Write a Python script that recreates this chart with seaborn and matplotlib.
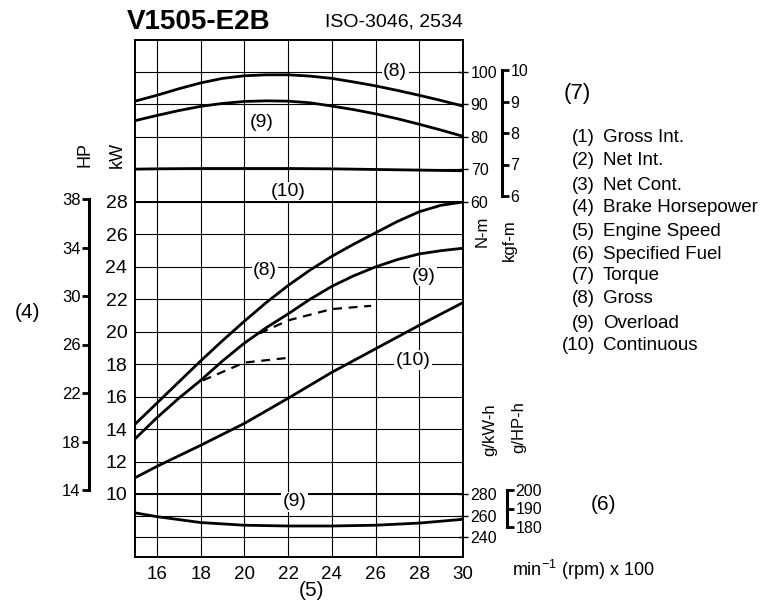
import matplotlib
matplotlib.use("Agg")
import matplotlib.pyplot as plt
import seaborn as sns

# ---------------- data ----------------
rpm = [15, 16, 18, 20, 22, 24, 26, 28, 30]          # x 100 min-1
rpm_fine = [15, 16, 17, 18, 19, 20, 21, 22, 23, 24, 25, 26, 27, 28, 29, 30]

torque_gross = [91.0, 92.8, 94.8, 96.6, 98.0, 98.8, 99.1, 99.1,
                98.7, 98.0, 96.9, 95.7, 94.3, 92.8, 91.2, 89.5]
torque_overload = [85.0, 86.6, 88.1, 89.4, 90.3, 90.9, 91.1, 91.0,
                   90.5, 89.5, 88.4, 87.1, 85.6, 83.9, 82.1, 80.2]
torque_continuous = [70.1, 70.2, 70.3, 70.3, 70.3, 70.2, 70.0, 69.8, 69.6]

power_gross = [14.3, 15.6, 16.9, 18.2, 19.45, 20.65, 21.8, 22.85,
               23.8, 24.65, 25.4, 26.1, 26.8, 27.4, 27.8, 28.0]
power_overload = [13.4, 14.7, 15.9, 17.0, 18.2, 19.3, 20.25, 21.1,
                  22.0, 22.8, 23.45, 24.0, 24.45, 24.8, 25.0, 25.15]
power_continuous = [11.0, 11.7, 13.0, 14.35, 15.9, 17.5, 18.95, 20.4, 21.8]
dash_upper_rpm = [20.7, 22, 24, 25.8]
dash_upper_kw = [19.9, 20.7, 21.4, 21.6]
dash_lower_rpm = [18.1, 20, 22.05]
dash_lower_kw = [17.0, 18.1, 18.4]

fuel_overload = [262.5, 259.0, 253.5, 251.0, 250.3, 250.3, 251.0, 253.0, 256.5]

x_ticks = [16, 18, 20, 22, 24, 26, 28, 30]
torque_ticks = [60, 70, 80, 90, 100]
kgfm_ticks = [6, 7, 8, 9, 10]
power_ticks = [10, 12, 14, 16, 18, 20, 22, 24, 26, 28]
hp_ticks = [14, 18, 22, 26, 30, 34, 38]
fuel_ticks = [240, 260, 280]
ghph_ticks = [180, 190, 200]

legend_nums = ["(1)", "(2)", "(3)", "(4)", "(5)", "(6)", "(7)", "(8)", "(9)", "(10)"]
legend_names = ["Gross Int.", "Net Int.", "Net Cont.", "Brake Horsepower",
                "Engine Speed", "Specified Fuel", "Torque", "Gross",
                "Overload", "Continuous"]

# ---------------- style ----------------
sns.set_theme(style="white")
plt.rcParams["font.family"] = ["Liberation Sans", "DejaVu Sans"]
plt.rcParams["axes.edgecolor"] = "black"
plt.rcParams["text.color"] = "black"
plt.rcParams["xtick.color"] = "black"
plt.rcParams["ytick.color"] = "black"
plt.rcParams["axes.labelcolor"] = "black"

W, H = 770, 606
fig = plt.figure(figsize=(W / 100, H / 100), dpi=100)
fig.patch.set_facecolor("white")


def fx(px):
    return px / W


def fy(py):
    return 1 - py / H


LEFT, RIGHT = 135, 463
TOP, MID1, MID2, BOT = 40, 202, 494, 557

ax_t = fig.add_axes([fx(LEFT), fy(MID1), (RIGHT - LEFT) / W, (MID1 - TOP) / H])
ax_p = fig.add_axes([fx(LEFT), fy(MID2), (RIGHT - LEFT) / W, (MID2 - MID1) / H])
ax_f = fig.add_axes([fx(LEFT), fy(BOT), (RIGHT - LEFT) / W, (BOT - MID2) / H])

for ax in (ax_t, ax_p, ax_f):
    ax.set_xlim(15, 30)
    ax.set_xticks(x_ticks)
    ax.grid(True, color="black", lw=0.8)
    ax.set_axisbelow(True)
    for s in ax.spines.values():
        s.set_color("black")
        s.set_linewidth(1.4)

CURVE = dict(color="black", lw=2.0, zorder=4)
DASH = dict(color="black", lw=1.6, zorder=4, linestyle=(0, (4, 3)))

# torque
sns.lineplot(x=rpm_fine, y=torque_gross, ax=ax_t, **CURVE)
sns.lineplot(x=rpm_fine, y=torque_overload, ax=ax_t, **CURVE)
sns.lineplot(x=rpm, y=torque_continuous, ax=ax_t, **CURVE)
ax_t.set_ylim(60, 109.8)
ax_t.set_yticks(torque_ticks)
ax_t.yaxis.tick_right()
ax_t.tick_params(axis="y", direction="inout", length=7, width=1.0, labelsize=11.5, pad=2)
ax_t.tick_params(axis="x", bottom=False, labelbottom=False)

# power
sns.lineplot(x=rpm_fine, y=power_gross, ax=ax_p, **CURVE)
sns.lineplot(x=rpm_fine, y=power_overload, ax=ax_p, **CURVE)
sns.lineplot(x=rpm, y=power_continuous, ax=ax_p, **CURVE)
sns.lineplot(x=dash_upper_rpm, y=dash_upper_kw, ax=ax_p, **DASH)
sns.lineplot(x=dash_lower_rpm, y=dash_lower_kw, ax=ax_p, **DASH)
ax_p.set_ylim(10, 28)
ax_p.set_yticks(power_ticks)
ax_p.tick_params(axis="y", direction="inout", length=7, width=1.0, labelsize=14, pad=2)
ax_p.tick_params(axis="x", bottom=False, labelbottom=False)

# fuel
sns.lineplot(x=rpm, y=fuel_overload, ax=ax_f, **CURVE)
ax_f.set_ylim(221.5, 280)
ax_f.set_yticks(fuel_ticks)
ax_f.yaxis.tick_right()
ax_f.tick_params(axis="y", direction="inout", length=7, width=1.0, labelsize=11.5, pad=2)
ax_f.tick_params(axis="x", direction="inout", length=7, width=1.0, labelsize=13.5, pad=3)

for ax in (ax_t, ax_p, ax_f):
    ax.set_xlabel("")
    ax.set_ylabel("")

# in-plot labels
LBL = dict(ha="center", va="center", fontsize=14, zorder=3,
           bbox=dict(facecolor="white", edgecolor="none", pad=1.0))
ax_t.text(26.9, 100.0, "(8)", **LBL)
ax_t.text(20.8, 84.5, "(9)", **LBL)
ax_t.text(22.0, 63.1, "(10)", **LBL)
ax_p.text(20.95, 23.8, "(8)", **LBL)
ax_p.text(28.2, 23.4, "(9)", **LBL)
ax_p.text(27.7, 18.25, "(10)", **LBL)
ax_f.text(22.3, 272.6, "(9)", **LBL)


# scale bars
def scale_bar(px_x, py_top, py_bot, lim, ticks, side, size):
    a = fig.add_axes([fx(px_x), fy(py_bot), 0.0001, (py_bot - py_top) / H])
    a.set_facecolor("none")
    a.set_ylim(*lim)
    a.set_xticks([])
    for s in a.spines.values():
        s.set_visible(False)
    a.spines[side].set_visible(True)
    a.spines[side].set_linewidth(2.2)
    a.spines[side].set_color("black")
    if side == "right":
        a.yaxis.tick_right()
    else:
        a.yaxis.tick_left()
    a.set_yticks(ticks)
    a.tick_params(axis="y", direction="out", length=5, width=2.0, labelsize=size, pad=1)
    return a


scale_bar(89, 199, 490, (14, 38), hp_ticks, "left", 12)
scale_bar(502, 70, 196, (6, 10), kgfm_ticks, "right", 11.5)
scale_bar(507, 490, 527, (180, 200), ghph_ticks, "right", 11.5)

# texts around
fig.text(fx(127), fy(22), "V1505-E2B", fontsize=20, fontweight="bold", ha="left", va="center")
fig.text(fx(325), fy(22), "ISO-3046, 2534", fontsize=14, ha="left", va="center")
fig.text(fx(85), fy(155), "HP", fontsize=13, rotation=90, ha="center", va="center")
fig.text(fx(117), fy(155), "kW", fontsize=13, rotation=90, ha="center", va="center")
fig.text(fx(27), fy(312), "(4)", fontsize=15, ha="center", va="center")
fig.text(fx(482), fy(231), "N-m", fontsize=12, rotation=90, ha="center", va="center")
fig.text(fx(509), fy(240), "kgf-m", fontsize=12, rotation=90, ha="center", va="center")
fig.text(fx(490), fy(430), "g/kW-h", fontsize=12, rotation=90, ha="center", va="center")
fig.text(fx(519), fy(427), "g/HP-h", fontsize=12, rotation=90, ha="center", va="center")
fig.text(fx(604), fy(505), "(6)", fontsize=15, ha="center", va="center")
fig.text(fx(312), fy(590), "(5)", fontsize=15, ha="center", va="center")
fig.text(fx(512), fy(570), "min$^{\\mathregular{-1}}$ (rpm) x 100", fontsize=13, ha="left", va="center")
fig.text(fx(577), fy(93), "(7)", fontsize=16, ha="center", va="center")

leg_y = [137, 161, 185, 208, 231, 255, 276, 299, 323, 346]
for num, name, yy in zip(legend_nums, legend_names, leg_y):
    fig.text(fx(595), fy(yy), num, fontsize=13.5, ha="right", va="center")
    fig.text(fx(603), fy(yy), name, fontsize=13.5, ha="left", va="center")

fig.savefig("out.png", dpi=100, facecolor="white")
